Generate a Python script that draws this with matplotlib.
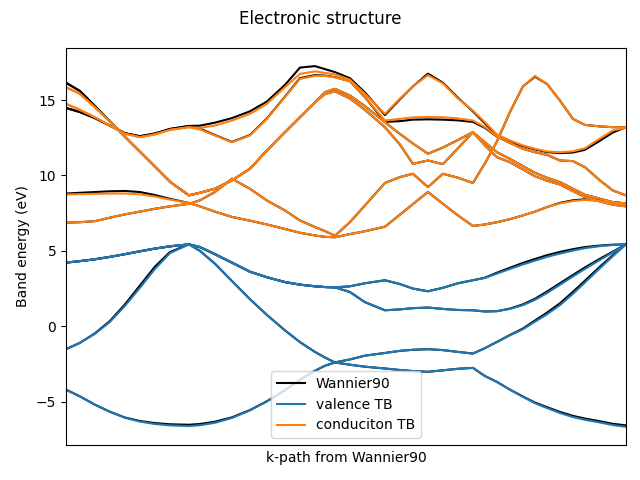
import matplotlib.pyplot as plt

# distance along the k-path (arbitrary units, no tick labels on the plot)
kpath = [0.00, 0.14, 0.29, 0.44, 0.59, 0.74, 0.89, 1.04, 1.23, 1.34,
         1.49, 1.66, 1.84, 2.01, 2.19, 2.34, 2.49, 2.59, 2.69, 2.84,
         2.99, 3.19, 3.34, 3.47, 3.62, 3.77, 3.92, 4.07, 4.19, 4.31,
         4.44, 4.57, 4.69, 4.81, 4.94, 5.07, 5.19, 5.34, 5.47, 5.60]

# ---- tight-binding valence bands (eV)
tb_v1 = [-4.20, -4.65, -5.20, -5.67, -6.07, -6.32, -6.48, -6.57, -6.62, -6.56,
         -6.40, -6.08, -5.58, -4.98, -4.25, -3.55, -2.95, -2.62, -2.40, -2.55,
         -2.68, -2.80, -2.90, -2.97, -3.02, -2.92, -2.82, -2.76, -3.30, -3.69,
         -4.20, -4.68, -5.10, -5.42, -5.75, -6.02, -6.20, -6.38, -6.55, -6.67]
tb_v2 = [-1.52, -1.10, -0.50, 0.29, 1.35, 2.55, 3.80, 4.85, 5.43, 5.00,
         4.15, 3.00, 1.80, 0.75, -0.27, -1.05, -1.70, -2.07, -2.40, -2.20,
         -1.95, -1.77, -1.63, -1.56, -1.52, -1.58, -1.70, -1.81, -1.45, -1.04,
         -0.60, -0.20, 0.30, 0.79, 1.40, 2.15, 2.90, 3.85, 4.65, 5.43]
tb_v3 = [4.22, 4.32, 4.44, 4.60, 4.78, 4.97, 5.15, 5.30, 5.43, 5.25,
         4.78, 4.22, 3.62, 3.25, 2.93, 2.76, 2.65, 2.60, 2.58, 2.27,
         1.60, 1.06, 1.12, 1.20, 1.24, 1.15, 1.08, 1.06, 0.98, 1.00,
         1.15, 1.40, 1.75, 2.20, 2.75, 3.30, 3.80, 4.40, 4.90, 5.43]
tb_v4 = [4.22, 4.32, 4.44, 4.60, 4.78, 4.97, 5.15, 5.30, 5.43, 5.25,
         4.78, 4.22, 3.62, 3.25, 2.93, 2.76, 2.65, 2.60, 2.58, 2.65,
         2.85, 3.05, 2.80, 2.50, 2.32, 2.55, 2.85, 3.05, 3.20, 3.49,
         3.80, 4.10, 4.35, 4.60, 4.82, 5.02, 5.18, 5.31, 5.39, 5.43]

# ---- tight-binding conduction bands (eV)
tb_c1 = [15.85, 15.41, 14.52, 13.56, 12.56, 11.57, 10.58, 9.58, 8.68, 8.85,
         9.12, 9.67, 10.44, 11.66, 12.87, 13.86, 14.85, 15.52, 15.74, 15.30,
         14.60, 13.53, 12.75, 12.12, 11.44, 11.85, 12.35, 12.87, 12.20, 11.54,
         11.10, 10.62, 10.18, 9.85, 9.56, 9.12, 8.72, 8.46, 8.23, 8.15]
tb_c2 = [15.85, 15.41, 14.52, 13.56, 12.56, 11.57, 10.58, 9.58, 8.68, 8.85,
         9.12, 9.67, 10.44, 11.66, 12.87, 13.86, 14.85, 15.40, 15.58, 15.10,
         14.35, 13.20, 12.05, 10.77, 10.99, 10.75, 11.80, 12.87, 11.99, 11.21,
         10.88, 10.40, 9.95, 9.65, 9.40, 8.96, 8.56, 8.28, 8.06, 7.95]
tb_c3 = [14.75, 14.35, 13.86, 13.31, 12.76, 12.54, 12.72, 13.02, 13.20, 13.15,
         13.31, 13.64, 14.08, 14.75, 15.85, 16.73, 16.90, 16.80, 16.70, 16.35,
         15.41, 14.08, 15.10, 15.90, 16.65, 16.10, 15.10, 14.30, 13.53, 12.72,
         12.32, 11.99, 11.77, 11.59, 11.54, 11.60, 11.80, 12.45, 12.98, 13.16]
tb_c4 = [14.75, 14.35, 13.86, 13.31, 12.76, 12.54, 12.72, 13.02, 13.20, 13.05,
         12.65, 12.20, 12.65, 13.75, 15.19, 16.40, 16.60, 16.60, 16.50, 16.25,
         15.19, 13.64, 13.75, 13.85, 13.88, 13.86, 13.78, 13.64, 13.20, 12.60,
         12.16, 11.77, 11.54, 11.37, 10.99, 10.95, 10.55, 9.67, 9.00, 8.68]
tb_c5 = [6.87, 6.90, 6.97, 7.20, 7.42, 7.60, 7.79, 7.95, 8.12, 8.35,
         8.90, 9.78, 9.12, 8.34, 7.68, 7.02, 6.58, 6.31, 6.00, 6.90,
         8.01, 9.50, 9.89, 10.11, 9.23, 10.11, 9.85, 9.50, 10.80, 12.25,
         14.20, 15.90, 16.60, 16.07, 14.97, 13.75, 13.35, 13.25, 13.20, 13.20]
tb_c6 = [8.74, 8.76, 8.78, 8.80, 8.80, 8.75, 8.60, 8.40, 8.17, 7.95,
         7.60, 7.25, 7.00, 6.75, 6.45, 6.20, 6.02, 5.93, 5.90, 6.11,
         6.30, 6.60, 7.40, 8.10, 8.90, 8.12, 7.35, 6.65, 6.75, 6.90,
         7.10, 7.35, 7.60, 7.90, 8.15, 8.30, 8.38, 8.30, 8.20, 8.10]

# ---- Wannier90 bands (eV)
w_v1 = [-4.20, -4.65, -5.20, -5.67, -6.05, -6.28, -6.42, -6.50, -6.53, -6.48,
        -6.33, -6.04, -5.56, -4.97, -4.25, -3.55, -2.95, -2.62, -2.40, -2.55,
        -2.68, -2.80, -2.90, -2.97, -3.02, -2.92, -2.82, -2.76, -3.30, -3.69,
        -4.20, -4.66, -5.06, -5.36, -5.68, -5.94, -6.12, -6.30, -6.47, -6.57]
w_v2 = [-1.52, -1.10, -0.47, 0.35, 1.45, 2.70, 3.95, 4.92, 5.43, 5.00,
        4.15, 3.00, 1.80, 0.75, -0.27, -1.05, -1.70, -2.07, -2.40, -2.20,
        -1.95, -1.77, -1.63, -1.56, -1.52, -1.58, -1.70, -1.81, -1.45, -1.04,
        -0.58, -0.15, 0.38, 0.90, 1.52, 2.28, 3.02, 3.95, 4.72, 5.43]
w_v3 = [4.22, 4.32, 4.44, 4.60, 4.78, 4.97, 5.15, 5.30, 5.43, 5.25,
        4.78, 4.22, 3.62, 3.25, 2.93, 2.76, 2.65, 2.60, 2.58, 2.27,
        1.60, 1.06, 1.12, 1.20, 1.24, 1.15, 1.08, 1.06, 0.98, 1.00,
        1.17, 1.45, 1.82, 2.30, 2.85, 3.40, 3.90, 4.48, 4.95, 5.43]
w_v4 = [4.22, 4.32, 4.44, 4.60, 4.78, 4.97, 5.15, 5.30, 5.43, 5.25,
        4.78, 4.22, 3.62, 3.25, 2.93, 2.76, 2.65, 2.60, 2.58, 2.65,
        2.85, 3.05, 2.80, 2.50, 2.32, 2.55, 2.85, 3.05, 3.22, 3.55,
        3.88, 4.20, 4.46, 4.71, 4.93, 5.11, 5.25, 5.35, 5.41, 5.43]
w_c1 = [16.15, 15.60, 14.60, 13.58, 12.56, 11.57, 10.58, 9.58, 8.68, 8.85,
        9.12, 9.67, 10.44, 11.66, 12.87, 13.86, 14.85, 15.52, 15.74, 15.30,
        14.60, 13.53, 12.75, 12.12, 11.44, 11.85, 12.35, 12.87, 12.20, 11.54,
        11.10, 10.62, 10.18, 9.85, 9.56, 9.12, 8.72, 8.46, 8.23, 8.15]
w_c2 = [16.15, 15.60, 14.60, 13.58, 12.56, 11.57, 10.58, 9.58, 8.68, 8.85,
        9.12, 9.67, 10.44, 11.66, 12.87, 13.86, 14.85, 15.40, 15.58, 15.10,
        14.35, 13.20, 12.05, 10.77, 10.99, 10.75, 11.80, 12.87, 11.99, 11.21,
        10.88, 10.40, 9.95, 9.65, 9.40, 8.96, 8.56, 8.28, 8.06, 7.95]
w_c3 = [14.48, 14.20, 13.80, 13.30, 12.80, 12.60, 12.78, 13.08, 13.28, 13.30,
        13.50, 13.80, 14.25, 14.90, 16.00, 17.15, 17.25, 17.05, 16.85, 16.45,
        15.50, 14.00, 15.05, 15.90, 16.75, 16.15, 15.15, 14.25, 13.45, 12.65,
        12.25, 11.95, 11.73, 11.55, 11.48, 11.52, 11.70, 12.30, 12.85, 13.20]
w_c4 = [14.48, 14.20, 13.80, 13.30, 12.80, 12.60, 12.78, 13.08, 13.28, 13.10,
        12.68, 12.22, 12.68, 13.78, 15.22, 16.45, 16.65, 16.62, 16.52, 16.25,
        15.19, 13.55, 13.60, 13.70, 13.72, 13.70, 13.65, 13.55, 13.15, 12.58,
        12.16, 11.77, 11.54, 11.37, 10.99, 10.95, 10.55, 9.67, 9.00, 8.68]
w_c5 = [6.87, 6.90, 6.97, 7.20, 7.42, 7.60, 7.79, 7.95, 8.12, 8.35,
        8.90, 9.78, 9.12, 8.34, 7.68, 7.02, 6.58, 6.31, 6.00, 6.90,
        8.01, 9.50, 9.89, 10.11, 9.23, 10.11, 9.85, 9.50, 10.80, 12.25,
        14.20, 15.90, 16.55, 16.07, 14.97, 13.75, 13.35, 13.25, 13.20, 13.20]
w_c6 = [8.80, 8.85, 8.90, 8.95, 8.97, 8.90, 8.70, 8.45, 8.17, 7.95,
        7.60, 7.25, 7.00, 6.75, 6.45, 6.20, 6.02, 5.93, 5.90, 6.11,
        6.30, 6.60, 7.40, 8.10, 8.90, 8.12, 7.35, 6.65, 6.75, 6.90,
        7.10, 7.35, 7.60, 7.90, 8.18, 8.35, 8.42, 8.33, 8.22, 8.12]

wannier = [w_v1, w_v2, w_v3, w_v4, w_c1, w_c2, w_c3, w_c4, w_c5, w_c6]
valence = [tb_v1, tb_v2, tb_v3, tb_v4]
conduction = [tb_c1, tb_c2, tb_c3, tb_c4, tb_c5, tb_c6]

fig = plt.figure(figsize=(6.4, 4.8), dpi=100)
ax = fig.add_axes([0.103, 0.073, 0.875, 0.827])

for i, band in enumerate(wannier):
    ax.plot(kpath, band, color="k", label="Wannier90" if i == 0 else None)
for i, band in enumerate(valence):
    ax.plot(kpath, band, color="C0", label="valence TB" if i == 0 else None)
for i, band in enumerate(conduction):
    ax.plot(kpath, band, color="C1", label="conduciton TB" if i == 0 else None)

ax.set_xlim(kpath[0], kpath[-1])
ax.set_ylim(-7.87, 18.45)
ax.set_xticks([])
ax.set_xlabel("k-path from Wannier90")
ax.set_ylabel("Band energy (eV)")
ax.legend(loc="lower center")
fig.suptitle("Electronic structure")

fig.savefig("out.png")
